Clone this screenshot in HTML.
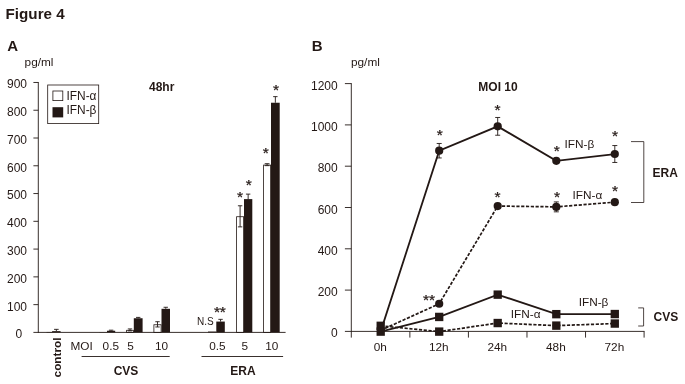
<!DOCTYPE html>
<html lang="en">
<head>
<meta charset="utf-8">
<title>Figure 4</title>
<style>
html,body{margin:0;padding:0;background:#fff;}
body{width:685px;height:384px;overflow:hidden;}
.s{stroke:#231815;stroke-width:0.25;}
svg{display:block;font-family:"Liberation Sans",sans-serif;fill:#231815;}
</style>
</head>
<body>
<svg width="685" height="384" viewBox="0 0 685 384">
<rect x="0" y="0" width="685" height="384" fill="#fff"/>
<text x="5.6" y="18.7" font-size="15.2" font-weight="bold" text-anchor="start">Figure 4</text>
<text x="7.3" y="50.5" font-size="15" font-weight="bold" text-anchor="start">A</text>
<text x="311.8" y="50.6" font-size="15" font-weight="bold" text-anchor="start">B</text>
<text x="24.6" y="65.8" font-size="11.8" text-anchor="start">pg/ml</text>
<text x="351" y="66.1" font-size="11.8" text-anchor="start">pg/ml</text>
<rect x="46.5" y="331.98" width="6" height="0.42" fill="#231815"/>
<rect x="52.1" y="331.15" width="8.5" height="1.25" fill="#231815"/>
<line x1="56.35" y1="329.35" x2="56.35" y2="331.15" stroke="#231815" stroke-width="0.9"/>
<line x1="54.05" y1="329.35" x2="58.65" y2="329.35" stroke="#231815" stroke-width="0.9"/>
<rect x="99.5" y="332.12" width="7.5" height="0.28" fill="#231815"/>
<rect x="107" y="330.73" width="8.2" height="1.67" fill="#231815"/>
<line x1="111.1" y1="330.18" x2="111.1" y2="330.73" stroke="#231815" stroke-width="0.9"/>
<line x1="108.9" y1="330.18" x2="113.3" y2="330.18" stroke="#231815" stroke-width="0.9"/>
<rect x="126.6" y="330.3" width="6.8" height="2.1" fill="#fff" stroke="#231815" stroke-width="0.8"/>
<line x1="130.0" y1="328.93" x2="130.0" y2="330.87" stroke="#231815" stroke-width="0.9"/>
<line x1="127.8" y1="328.93" x2="132.2" y2="328.93" stroke="#231815" stroke-width="0.9"/>
<line x1="127.8" y1="330.87" x2="132.2" y2="330.87" stroke="#231815" stroke-width="0.9"/>
<rect x="133.8" y="318.24" width="8.8" height="14.16" fill="#231815"/>
<line x1="138.2" y1="317.4" x2="138.2" y2="318.24" stroke="#231815" stroke-width="0.9"/>
<line x1="136.0" y1="317.4" x2="140.4" y2="317.4" stroke="#231815" stroke-width="0.9"/>
<rect x="153.9" y="324.75" width="7.2" height="7.65" fill="#fff" stroke="#231815" stroke-width="0.8"/>
<line x1="157.5" y1="321.71" x2="157.5" y2="326.98" stroke="#231815" stroke-width="0.9"/>
<line x1="155.3" y1="321.71" x2="159.7" y2="321.71" stroke="#231815" stroke-width="0.9"/>
<line x1="155.3" y1="326.98" x2="159.7" y2="326.98" stroke="#231815" stroke-width="0.9"/>
<rect x="161.5" y="308.8" width="8.5" height="23.6" fill="#231815"/>
<line x1="165.75" y1="307.27" x2="165.75" y2="308.8" stroke="#231815" stroke-width="0.9"/>
<line x1="163.55" y1="307.27" x2="167.95" y2="307.27" stroke="#231815" stroke-width="0.9"/>
<rect x="208" y="331.57" width="8.3" height="0.83" fill="#231815"/>
<rect x="216.3" y="321.57" width="8.5" height="10.83" fill="#231815"/>
<line x1="220.55" y1="319.35" x2="220.55" y2="321.57" stroke="#231815" stroke-width="0.9"/>
<line x1="218.35" y1="319.35" x2="222.75" y2="319.35" stroke="#231815" stroke-width="0.9"/>
<rect x="236.6" y="216.72" width="7.0" height="115.68" fill="#fff" stroke="#231815" stroke-width="0.8"/>
<line x1="240.1" y1="205.77" x2="240.1" y2="226.87" stroke="#231815" stroke-width="0.9"/>
<line x1="237.9" y1="205.77" x2="242.3" y2="205.77" stroke="#231815" stroke-width="0.9"/>
<line x1="237.9" y1="226.87" x2="242.3" y2="226.87" stroke="#231815" stroke-width="0.9"/>
<rect x="244" y="199.1" width="8.3" height="133.3" fill="#231815"/>
<line x1="248.15" y1="194.11" x2="248.15" y2="199.1" stroke="#231815" stroke-width="0.9"/>
<line x1="245.95" y1="194.11" x2="250.35" y2="194.11" stroke="#231815" stroke-width="0.9"/>
<rect x="263.6" y="165.07" width="7.0" height="167.33" fill="#fff" stroke="#231815" stroke-width="0.8"/>
<line x1="267.1" y1="163.7" x2="267.1" y2="165.64" stroke="#231815" stroke-width="0.9"/>
<line x1="264.7" y1="163.7" x2="269.5" y2="163.7" stroke="#231815" stroke-width="0.9"/>
<line x1="264.7" y1="165.64" x2="269.5" y2="165.64" stroke="#231815" stroke-width="0.9"/>
<rect x="271" y="102.74" width="8.7" height="229.66" fill="#231815"/>
<line x1="275.35" y1="96.63" x2="275.35" y2="102.74" stroke="#231815" stroke-width="0.9"/>
<line x1="273.15" y1="96.63" x2="277.55" y2="96.63" stroke="#231815" stroke-width="0.9"/>
<line x1="38.3" y1="82.02" x2="38.3" y2="332.85" stroke="#231815" stroke-width="0.9"/>
<line x1="33.4" y1="332.4" x2="285.6" y2="332.4" stroke="#231815" stroke-width="0.9"/>
<line x1="33.4" y1="304.63" x2="38.3" y2="304.63" stroke="#231815" stroke-width="0.9"/>
<text x="27.0" y="310.53" font-size="12.0" text-anchor="end">100</text>
<line x1="33.4" y1="276.86" x2="38.3" y2="276.86" stroke="#231815" stroke-width="0.9"/>
<text x="27.0" y="282.76" font-size="12.0" text-anchor="end">200</text>
<line x1="33.4" y1="249.09" x2="38.3" y2="249.09" stroke="#231815" stroke-width="0.9"/>
<text x="27.0" y="254.99" font-size="12.0" text-anchor="end">300</text>
<line x1="33.4" y1="221.32" x2="38.3" y2="221.32" stroke="#231815" stroke-width="0.9"/>
<text x="27.0" y="227.22" font-size="12.0" text-anchor="end">400</text>
<line x1="33.4" y1="193.55" x2="38.3" y2="193.55" stroke="#231815" stroke-width="0.9"/>
<text x="27.0" y="199.45" font-size="12.0" text-anchor="end">500</text>
<line x1="33.4" y1="165.78" x2="38.3" y2="165.78" stroke="#231815" stroke-width="0.9"/>
<text x="27.0" y="171.68" font-size="12.0" text-anchor="end">600</text>
<line x1="33.4" y1="138.01" x2="38.3" y2="138.01" stroke="#231815" stroke-width="0.9"/>
<text x="27.0" y="143.91" font-size="12.0" text-anchor="end">700</text>
<line x1="33.4" y1="110.24" x2="38.3" y2="110.24" stroke="#231815" stroke-width="0.9"/>
<text x="27.0" y="116.14" font-size="12.0" text-anchor="end">800</text>
<line x1="33.4" y1="82.47" x2="38.3" y2="82.47" stroke="#231815" stroke-width="0.9"/>
<text x="27.0" y="88.37" font-size="12.0" text-anchor="end">900</text>
<text x="22.3" y="338.0" font-size="12.0" text-anchor="end">0</text>
<rect x="47.7" y="85" width="51" height="38.6" fill="none" stroke="#231815" stroke-width="0.8"/>
<rect x="52.9" y="91" width="9.9" height="9.6" fill="#fff" stroke="#231815" stroke-width="0.8"/>
<rect x="52.5" y="107.2" width="10.7" height="10.2" fill="#231815"/>
<text x="66.5" y="99.9" font-size="11.9" text-anchor="start">IFN-α</text>
<text x="66.5" y="114.3" font-size="11.9" text-anchor="start">IFN-β</text>
<text x="149" y="91.2" font-size="12" font-weight="bold" text-anchor="start">48hr</text>
<text transform="translate(60.8,377.4) rotate(-90)" font-size="11.75" font-weight="bold">control</text>
<text x="70.4" y="349.55" font-size="11.8" text-anchor="start">MOI</text>
<text x="110.8" y="349.55" font-size="11.8" text-anchor="middle">0.5</text>
<text x="130.6" y="349.55" font-size="11.8" text-anchor="middle">5</text>
<text x="161.6" y="349.55" font-size="11.8" text-anchor="middle">10</text>
<text x="217.4" y="349.55" font-size="11.8" text-anchor="middle">0.5</text>
<text x="244.7" y="349.55" font-size="11.8" text-anchor="middle">5</text>
<text x="271.8" y="349.55" font-size="11.8" text-anchor="middle">10</text>
<line x1="81.6" y1="356.5" x2="169.7" y2="356.5" stroke="#231815" stroke-width="0.9"/>
<line x1="201.5" y1="356.5" x2="283.1" y2="356.5" stroke="#231815" stroke-width="0.9"/>
<text x="126" y="375.35" font-size="12" font-weight="bold" text-anchor="middle">CVS</text>
<text x="243" y="375.35" font-size="12" font-weight="bold" text-anchor="middle">ERA</text>
<text x="197" y="324.8" font-size="10" text-anchor="start">N.S</text>
<text x="217" y="317.12" font-size="15.5" text-anchor="middle" class="s">*</text>
<text x="222.8" y="317.12" font-size="15.5" text-anchor="middle" class="s">*</text>
<text x="240" y="201.72" font-size="15.5" text-anchor="middle" class="s">*</text>
<text x="248.8" y="190.12" font-size="15.5" text-anchor="middle" class="s">*</text>
<text x="265.7" y="158.02" font-size="15.5" text-anchor="middle" class="s">*</text>
<text x="276" y="94.62" font-size="15.5" text-anchor="middle" class="s">*</text>
<line x1="351.3" y1="83.15" x2="351.3" y2="337.6" stroke="#231815" stroke-width="0.9"/>
<line x1="344.9" y1="331.4" x2="644.5" y2="331.4" stroke="#231815" stroke-width="0.9"/>
<line x1="409.86" y1="331.4" x2="409.86" y2="337.6" stroke="#231815" stroke-width="0.9"/>
<line x1="468.42" y1="331.4" x2="468.42" y2="337.6" stroke="#231815" stroke-width="0.9"/>
<line x1="526.98" y1="331.4" x2="526.98" y2="337.6" stroke="#231815" stroke-width="0.9"/>
<line x1="585.54" y1="331.4" x2="585.54" y2="337.6" stroke="#231815" stroke-width="0.9"/>
<line x1="644.1" y1="331.4" x2="644.1" y2="337.6" stroke="#231815" stroke-width="0.9"/>
<line x1="344.9" y1="290.1" x2="351.3" y2="290.1" stroke="#231815" stroke-width="0.9"/>
<line x1="344.9" y1="248.8" x2="351.3" y2="248.8" stroke="#231815" stroke-width="0.9"/>
<line x1="344.9" y1="207.5" x2="351.3" y2="207.5" stroke="#231815" stroke-width="0.9"/>
<line x1="344.9" y1="166.2" x2="351.3" y2="166.2" stroke="#231815" stroke-width="0.9"/>
<line x1="344.9" y1="124.9" x2="351.3" y2="124.9" stroke="#231815" stroke-width="0.9"/>
<line x1="344.9" y1="83.6" x2="351.3" y2="83.6" stroke="#231815" stroke-width="0.9"/>
<text x="337.7" y="337.4" font-size="12.0" text-anchor="end">0</text>
<text x="337.7" y="296.1" font-size="12.0" text-anchor="end">200</text>
<text x="337.7" y="254.8" font-size="12.0" text-anchor="end">400</text>
<text x="337.7" y="213.5" font-size="12.0" text-anchor="end">600</text>
<text x="337.7" y="172.2" font-size="12.0" text-anchor="end">800</text>
<text x="337.7" y="130.9" font-size="12.0" text-anchor="end">1000</text>
<text x="337.7" y="89.6" font-size="12.0" text-anchor="end">1200</text>
<text x="380.3" y="350.5" font-size="11.8" text-anchor="middle">0h</text>
<text x="438.8" y="350.5" font-size="11.8" text-anchor="middle">12h</text>
<text x="497.3" y="350.5" font-size="11.8" text-anchor="middle">24h</text>
<text x="555.9" y="350.5" font-size="11.8" text-anchor="middle">48h</text>
<text x="614.4" y="350.5" font-size="11.8" text-anchor="middle">72h</text>
<text x="498" y="91.1" font-size="12" font-weight="bold" text-anchor="middle">MOI 10</text>
<polyline points="380.7,331.4 439.2,150.71 497.7,126.35 556.3,160.83 614.8,154.02" fill="none" stroke="#231815" stroke-width="1.8"/>
<polyline points="380.7,330.37 439.2,303.73 497.7,206.05 556.3,206.88 614.8,202.13" fill="none" stroke="#231815" stroke-width="1.7" stroke-dasharray="3.2 1.6"/>
<polyline points="380.7,331.61 439.2,316.94 497.7,294.64 556.3,314.16 614.8,314.05" fill="none" stroke="#231815" stroke-width="1.8"/>
<polyline points="380.7,325.82 439.2,331.61 497.7,323.04 556.3,325.62 614.8,323.55" fill="none" stroke="#231815" stroke-width="1.7" stroke-dasharray="3.2 1.6"/>
<line x1="439.2" y1="143.48" x2="439.2" y2="157.94" stroke="#231815" stroke-width="0.9"/>
<line x1="436.7" y1="143.48" x2="441.7" y2="143.48" stroke="#231815" stroke-width="0.9"/>
<line x1="436.7" y1="157.94" x2="441.7" y2="157.94" stroke="#231815" stroke-width="0.9"/>
<line x1="497.7" y1="117.47" x2="497.7" y2="135.22" stroke="#231815" stroke-width="0.9"/>
<line x1="495.2" y1="117.47" x2="500.2" y2="117.47" stroke="#231815" stroke-width="0.9"/>
<line x1="495.2" y1="135.22" x2="500.2" y2="135.22" stroke="#231815" stroke-width="0.9"/>
<line x1="614.8" y1="145.55" x2="614.8" y2="162.48" stroke="#231815" stroke-width="0.9"/>
<line x1="612.3" y1="145.55" x2="617.3" y2="145.55" stroke="#231815" stroke-width="0.9"/>
<line x1="612.3" y1="162.48" x2="617.3" y2="162.48" stroke="#231815" stroke-width="0.9"/>
<line x1="556.3" y1="201.92" x2="556.3" y2="211.84" stroke="#231815" stroke-width="0.9"/>
<line x1="553.8" y1="201.92" x2="558.8" y2="201.92" stroke="#231815" stroke-width="0.9"/>
<line x1="553.8" y1="211.84" x2="558.8" y2="211.84" stroke="#231815" stroke-width="0.9"/>
<line x1="556.3" y1="158.35" x2="556.3" y2="163.31" stroke="#231815" stroke-width="0.9"/>
<line x1="554.3" y1="158.35" x2="558.3" y2="158.35" stroke="#231815" stroke-width="0.9"/>
<line x1="554.3" y1="163.31" x2="558.3" y2="163.31" stroke="#231815" stroke-width="0.9"/>
<line x1="614.8" y1="199.65" x2="614.8" y2="204.61" stroke="#231815" stroke-width="0.9"/>
<line x1="612.8" y1="199.65" x2="616.8" y2="199.65" stroke="#231815" stroke-width="0.9"/>
<line x1="612.8" y1="204.61" x2="616.8" y2="204.61" stroke="#231815" stroke-width="0.9"/>
<circle cx="439.2" cy="150.71" r="4.1" fill="#231815"/>
<circle cx="497.7" cy="126.35" r="4.1" fill="#231815"/>
<circle cx="556.3" cy="160.83" r="4.1" fill="#231815"/>
<circle cx="614.8" cy="154.02" r="4.1" fill="#231815"/>
<circle cx="439.2" cy="303.73" r="4.1" fill="#231815"/>
<circle cx="497.7" cy="206.05" r="4.1" fill="#231815"/>
<circle cx="556.3" cy="206.88" r="4.1" fill="#231815"/>
<circle cx="614.8" cy="202.13" r="4.1" fill="#231815"/>
<rect x="376.55" y="321.62" width="8.3" height="8.4" fill="#231815"/>
<rect x="435.05" y="327.41" width="8.3" height="8.4" fill="#231815"/>
<rect x="493.55" y="318.84" width="8.3" height="8.4" fill="#231815"/>
<rect x="552.15" y="321.42" width="8.3" height="8.4" fill="#231815"/>
<rect x="610.65" y="319.35" width="8.3" height="8.4" fill="#231815"/>
<rect x="376.55" y="327.41" width="8.3" height="8.4" fill="#231815"/>
<rect x="435.05" y="312.74" width="8.3" height="8.4" fill="#231815"/>
<rect x="493.55" y="290.44" width="8.3" height="8.4" fill="#231815"/>
<rect x="552.15" y="309.96" width="8.3" height="8.4" fill="#231815"/>
<rect x="610.65" y="309.85" width="8.3" height="8.4" fill="#231815"/>
<text x="439.7" y="140.32" font-size="15.5" text-anchor="middle" class="s">*</text>
<text x="497.4" y="115.12" font-size="15.5" text-anchor="middle" class="s">*</text>
<text x="556.8" y="155.52" font-size="15.5" text-anchor="middle" class="s">*</text>
<text x="615" y="140.72" font-size="15.5" text-anchor="middle" class="s">*</text>
<text x="497.4" y="201.72" font-size="15.5" text-anchor="middle" class="s">*</text>
<text x="557" y="201.72" font-size="15.5" text-anchor="middle" class="s">*</text>
<text x="615" y="195.72" font-size="15.5" text-anchor="middle" class="s">*</text>
<text x="426" y="305.12" font-size="15.5" text-anchor="middle" class="s">*</text>
<text x="432" y="305.12" font-size="15.5" text-anchor="middle" class="s">*</text>
<text x="564.6" y="148.3" font-size="11.8" text-anchor="start">IFN-β</text>
<text x="572.6" y="199.2" font-size="11.8" text-anchor="start">IFN-α</text>
<text x="578.7" y="306.2" font-size="11.8" text-anchor="start">IFN-β</text>
<text x="510.8" y="318.1" font-size="11.8" text-anchor="start">IFN-α</text>
<polyline points="631,141.6 643.8,141.6 643.8,202.5 631,202.5" fill="none" stroke="#231815" stroke-width="0.8"/>
<polyline points="638.2,307.9 643.6,307.9 643.6,326 638.2,326" fill="none" stroke="#231815" stroke-width="0.8"/>
<text x="652.6" y="176.6" font-size="12" font-weight="bold" text-anchor="start">ERA</text>
<text x="653.6" y="321.2" font-size="12" font-weight="bold" text-anchor="start">CVS</text>
</svg>
</body>
</html>
